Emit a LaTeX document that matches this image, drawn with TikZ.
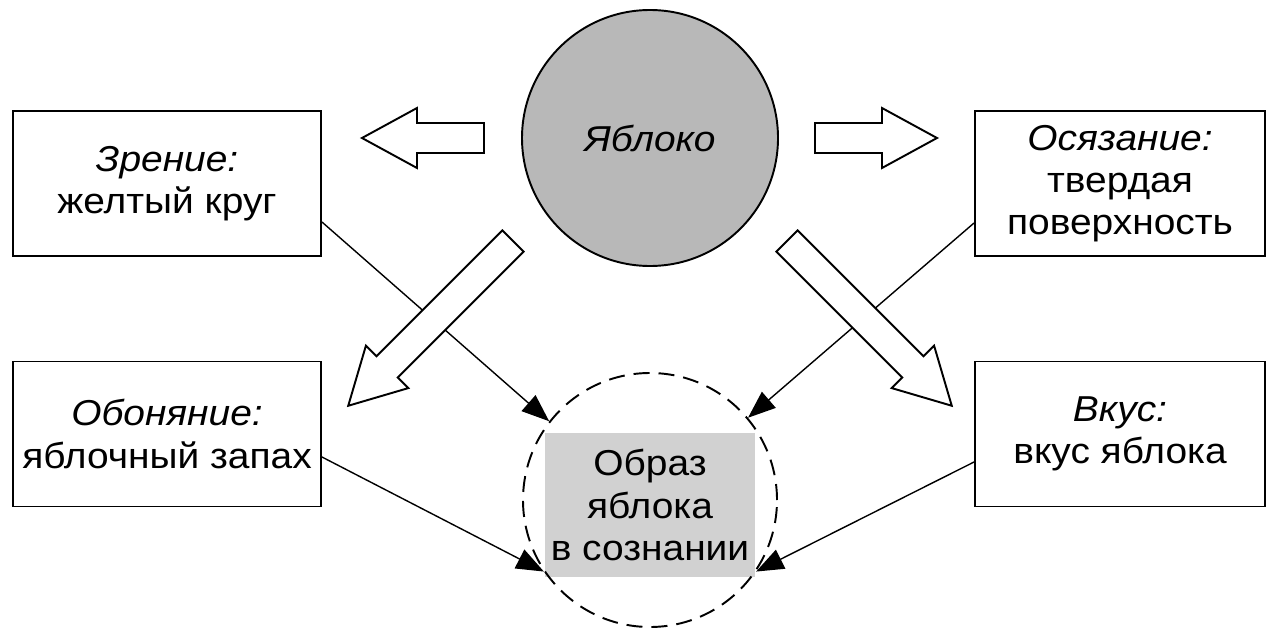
\documentclass[tikz,border=0pt]{standalone}
\usepackage{fontspec}
\setmainfont{Liberation Sans}[FakeStretch=1.08]
\usetikzlibrary{arrows.meta, positioning}
\definecolor{applegray}{gray}{0.72}
\definecolor{mindgray}{gray}{0.82}

\begin{document}
\begin{tikzpicture}[font=\fontsize{20.5}{24}\selectfont,
                    sense/.style={rectangle, draw, line width=1.1pt, minimum height=2.9cm, align=center},
                    fat/.pic={\draw[fill=white, line width=1.1pt] (0,-0.3) -- (#1-1.1,-0.3) -- (#1-1.1,-0.6)
                                -- (#1,0) -- (#1-1.1,0.6) -- (#1-1.1,0.3) -- (0,0.3) -- cycle;},
                    feel/.style={line width=0.8pt, -{Triangle[length=5.5mm, width=4.2mm]}}]
  \useasboundingbox (0,0) rectangle (25.34,12.6);
  \node[sense, minimum width=6.16cm] (sight) at (3.34,8.93) {\textit{Зрение:}\\желтый круг};
  \node[sense, minimum width=5.8cm] (touch) at (22.4,8.93) {\textit{Осязание:}\\твердая\\поверхность};
  \node[sense, minimum width=6.16cm] (smell) at (3.34,3.92) {\textit{Обоняние:}\\яблочный запах};
  \node[sense, minimum width=5.8cm] (taste) at (22.4,3.92) {\textit{Вкус:}\\вкус яблока};
  \node[circle, draw, fill=applegray, line width=1.1pt, minimum size=5.12cm] (apple) at (13,9.84) {\textit{Яблоко}};
  \node[rectangle, fill=mindgray, minimum width=4.12cm, minimum height=2.88cm, align=center] (image) at (13,2.5) {Образ\\яблока\\в сознании};
  \node[circle, draw, dash pattern=on 3.2mm off 1.8mm, line width=1.1pt, minimum size=5.08cm] (mind) at (13,2.6) {};
  % senses to the image
  \draw[feel] ([yshift=-7.7mm]sight.east) -- (mind.142);
  \draw[feel] ([yshift=-7.9mm]touch.west) -- (mind.40);
  \draw[feel] ([yshift=-4.6mm]smell.east) -- (mind.214);
  \draw[feel] ([yshift=-5.6mm]taste.west) -- (mind.326);
  % block arrows from the apple
  \pic[rotate=180] at (9.68,9.84) {fat=2.44};
  \pic at (16.3,9.84) {fat=2.44};
  \pic[rotate=225] at (10.26,7.78) {fat=4.66};
  \pic[rotate=-45] at (15.74,7.78) {fat=4.66};
\end{tikzpicture}
\end{document}
